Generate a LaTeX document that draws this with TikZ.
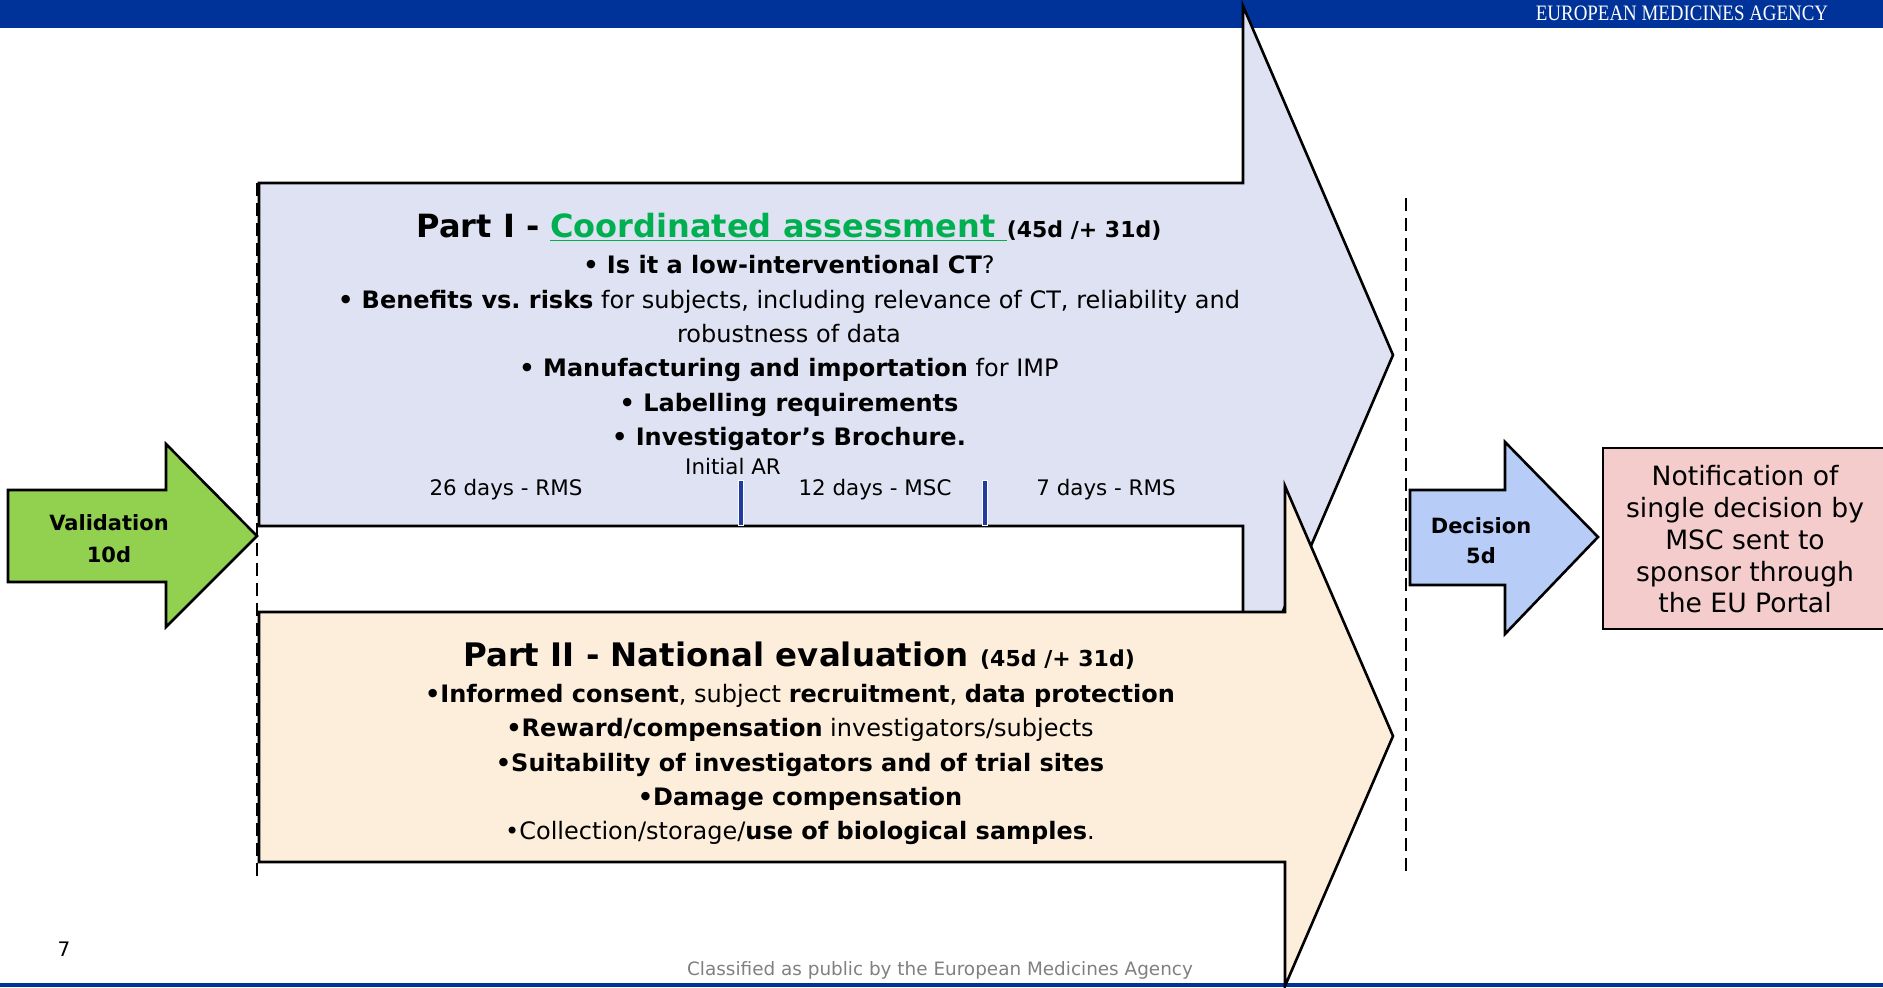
\documentclass[tikz,border=0pt]{standalone}
\usepackage{fontspec}
\setmainfont{DejaVu Sans}
\newfontfamily\emafont{Liberation Serif}

\definecolor{emablue}{HTML}{003399}
\definecolor{partone}{HTML}{DFE2F2}
\definecolor{parttwo}{HTML}{FDEEDC}
\definecolor{valgreen}{HTML}{92D050}
\definecolor{decblue}{HTML}{B7CCF7}
\definecolor{notifpink}{HTML}{F4CCCC}
\definecolor{titlegreen}{HTML}{00B050}
\definecolor{markblue}{HTML}{1F3C9E}

\begin{document}
\begin{tikzpicture}[x=0.5pt,y=-0.5pt,line join=miter,
    blk/.style={draw=black,line width=1.3pt},
    sep/.style={draw=black,line width=1pt,dash pattern=on 6.5pt off 3.5pt},
    txt/.style={inner sep=0pt,align=center},
    armark/.style={line width=1.6pt,draw=markblue}]

    \useasboundingbox (0,0) rectangle (1883,987);

    % header and footer bars
    \fill[emablue] (0,0) rectangle (1883,28);
    \fill[emablue] (0,983) rectangle (1883,987);
    \node[txt,text=white] (ema) at (1682,13)
        {\scalebox{0.86}[1]{\emafont\fontsize{11}{12}\selectfont EUROPEAN MEDICINES AGENCY}};

    % phase limits
    \draw[sep] (257,183) -- (257,877);
    \draw[sep] (1406,198) -- (1406,875);

    % part I and part II arrows
    \draw[blk,fill=partone] (259,183) -- (1243,183) -- (1243,6) -- (1393,355)
        -- (1243,704) -- (1243,526) -- (259,526) -- cycle;
    \draw[blk,fill=parttwo] (259,612) -- (1285,612) -- (1285,486) -- (1393,736)
        -- (1285,986) -- (1285,862) -- (259,862) -- cycle;

    % validation, decision, notification
    \draw[blk,fill=valgreen] (8,490) -- (166,490) -- (166,444) -- (257,536)
        -- (166,627) -- (166,582) -- (8,582) -- cycle;
    \draw[blk,fill=decblue] (1410,490) -- (1505,490) -- (1505,442) -- (1598,537)
        -- (1505,634) -- (1505,585) -- (1410,585) -- cycle;
    \draw[blk,fill=notifpink] (1603,448) rectangle (1890,629);

    \node[txt,anchor=north,font=\bfseries\fontsize{10.5}{16}\selectfont] (val) at (109,514)
        {Validation\\10d};
    \node[txt,anchor=north,font=\bfseries\fontsize{10.5}{15}\selectfont] (dec) at (1481,517)
        {Decision\\5d};
    \node[txt,anchor=north,font=\fontsize{13.3}{15.9}\selectfont] (notif) at (1745,465)
        {Notification of\\single decision by\\MSC sent to\\sponsor through\\the EU Portal};

    % part I text
    \node[txt,anchor=base,font=\bfseries\fontsize{16}{19}\selectfont] (p1title) at (789,237)
        {Part I - \textcolor{titlegreen}{\underline{Coordinated assessment\ }}{\fontsize{11}{13}\selectfont(45d /+ 31d)}};
    \node[txt,anchor=north,font=\fontsize{12}{17.2}\selectfont] (p1body) at (789,255)
        {\textbf{• Is it a low-interventional CT}?\\
         \textbf{• Benefits vs.\ risks} for subjects, including relevance of CT, reliability and\\
         robustness of data\\
         \textbf{• Manufacturing and importation} for IMP\\
         \textbf{• Labelling requirements}\\
         \textbf{• Investigator’s Brochure.}};

    % part I timeline
    \node[txt,anchor=base,font=\fontsize{10.7}{12}\selectfont] (ar) at (733,474) {Initial AR};
    \node[txt,anchor=base,font=\fontsize{10.7}{12}\selectfont] (rms1) at (506,495) {26 days - RMS};
    \node[txt,anchor=base,font=\fontsize{10.7}{12}\selectfont] (msc) at (875,495) {12 days - MSC};
    \node[txt,anchor=base,font=\fontsize{10.7}{12}\selectfont] (rms2) at (1106,495) {7 days - RMS};
    \draw[white,line width=2.8pt] (741,480) -- (741,526) (985,480) -- (985,526);
    \draw[armark] (741,481) -- (741,525) (985,481) -- (985,525);

    % part II text
    \node[txt,anchor=base,font=\bfseries\fontsize{16.2}{19}\selectfont] (p2title) at (799,666)
        {Part II - National evaluation {\fontsize{11}{13}\selectfont(45d /+ 31d)}};
    \node[txt,anchor=north,font=\fontsize{12}{17.15}\selectfont] (p2body) at (800,684)
        {\textbf{•Informed consent}, subject \textbf{recruitment}, \textbf{data protection}\\
         \textbf{•Reward/compensation} investigators/subjects\\
         \textbf{•Suitability of investigators and of trial sites}\\
         \textbf{•Damage compensation}\\
         •Collection/storage/\textbf{use of biological samples}.};

    % page furniture
    \node[txt,font=\fontsize{10}{12}\selectfont] (pageno) at (64,949) {7};
    \node[txt,text=black!50,font=\fontsize{9.2}{11}\selectfont] (classif) at (940,970)
        {Classified as public by the European Medicines Agency};
\end{tikzpicture}
\end{document}
